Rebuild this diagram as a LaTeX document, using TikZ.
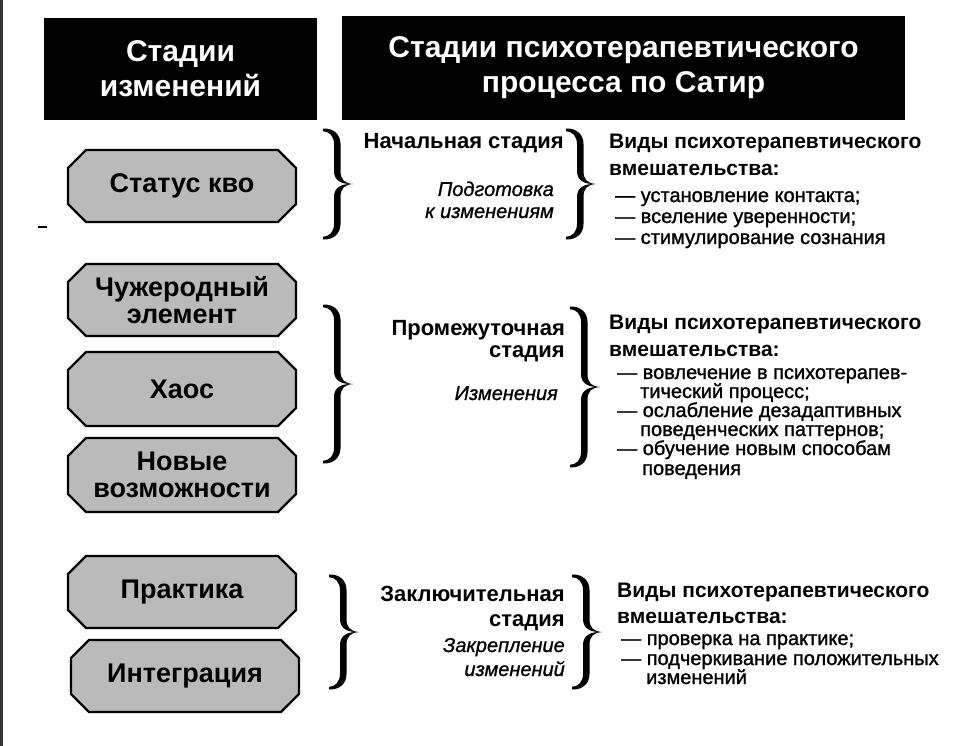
\documentclass[tikz,border=0pt]{standalone}
\usepackage{fontspec}
\setmainfont{Liberation Sans}
\newfontfamily\heavyitem{Liberation Sans}[FakeBold=1.2]
\newfontfamily\heavyital{Liberation Sans Italic}[FakeBold=1.0]
\usetikzlibrary{shapes.misc}

\tikzset{
  headbox/.style={fill=black, text=white, font=\bfseries\fontsize{30}{35}\selectfont, align=center, inner sep=0pt},
  stagebox/.style={chamfered rectangle, chamfered rectangle xsep=9pt, chamfered rectangle ysep=9pt,
    draw=black, line width=2.4pt, fill=black!27, font=\bfseries\fontsize{27}{27}\selectfont,
    align=center, inner sep=0pt, minimum width=228pt},
  stagename/.style={anchor=base east, font=\bfseries\fontsize{22}{22}\selectfont, inner sep=0pt},
  stagegoal/.style={anchor=base east, font=\heavyital\fontsize{20}{21}\selectfont, inner sep=0pt},
  kindhead/.style={anchor=base west, font=\bfseries\fontsize{21}{22}\selectfont, inner sep=0pt},
  kinditem/.style={anchor=base west, font=\heavyitem\fontsize{20}{21}\selectfont, inner sep=0pt},
  % right-pointing curly brace, #1 = half height
  pics/curly/.style={code={
    \foreach \s in {1,-1}{
      \fill[yscale=\s] (0,-#1-1.5) .. controls (10,-#1-2) and (17.5,-#1+4) .. (17.5,-#1+14)
        -- (17.5,-13) .. controls (17.5,-4) and (22,-0.5) .. (30,0)
        .. controls (19,0.5) and (11,-3) .. (11,-13)
        -- (11,-#1+14) .. controls (11,-#1+6) and (6,-#1+1.2) .. (0,-#1+1.2) -- cycle;
    }
  }},
}

\begin{document}
\begin{tikzpicture}[x=1pt, y=-1pt]
\useasboundingbox (0,0) rectangle (969,746);
\fill[black!80] (0,0) rectangle (3,746);
\draw[line width=1.5pt] (38,227) -- (47,227);

% headers
\node[headbox, minimum width=273pt, minimum height=102pt] (hstage) at (180.5,69) {Стадии\\изменений};
\node[headbox, minimum width=563pt, minimum height=104pt] (hproc) at (623.5,68) {Стадии психотерапевтического\\процесса по Сатир};

% stages of change
\node[stagebox, minimum height=72pt] (kvo) at (182,186) {Статус кво};
\node[stagebox, minimum height=72pt] (alien) at (182,300) {Чужеродный\\элемент};
\node[stagebox, minimum height=74pt] (chaos) at (182,389) {Хаос};
\node[stagebox, minimum height=74pt] (newpos) at (182,475) {Новые\\возможности};
\node[stagebox, minimum height=72pt] (practice) at (182,592) {Практика};
\node[stagebox, minimum height=72pt] (integr) at (185,676) {Интеграция};

% braces
\pic (bA) at (323,184) {curly=54};
\pic (bB) at (566,184) {curly=54};
\pic (bC) at (323,384) {curly=78};
\pic (bD) at (570,387) {curly=79};
\pic (bE) at (329,632) {curly=56};
\pic (bF) at (572,632) {curly=56};

% initial stage
\node[stagename] (n1) at (564,149) {Начальная стадия};
\node[stagegoal] (g1a) at (554,196) {Подготовка};
\node[stagegoal] (g1b) at (554,218) {к изменениям};
\node[kindhead] (k1a) at (609,149) {Виды психотерапевтического};
\node[kindhead] (k1b) at (609,176) {вмешательства:};
\node[kinditem] (k1c) at (615,202) {— установление контакта;};
\node[kinditem] (k1d) at (615,223) {— вселение уверенности;};
\node[kinditem] (k1e) at (615,244) {— стимулирование сознания};

% intermediate stage
\node[stagename] (n2a) at (565,335) {Промежуточная};
\node[stagename] (n2b) at (565,357) {стадия};
\node[stagegoal] (g2) at (558,400) {Изменения};
\node[kindhead] (k2a) at (609,329) {Виды психотерапевтического};
\node[kindhead] (k2b) at (609,356) {вмешательства:};
\node[kinditem] (k2c) at (617,379) {— вовлечение в психотерапев-};
\node[kinditem] (k2d) at (640,398) {тический процесс;};
\node[kinditem] (k2e) at (617,417) {— ослабление дезадаптивных};
\node[kinditem] (k2f) at (640,436) {поведенческих паттернов;};
\node[kinditem] (k2g) at (617,455) {— обучение новым способам};
\node[kinditem] (k2h) at (642,475) {поведения};

% final stage
\node[stagename] (n3a) at (565,601) {Заключительная};
\node[stagename] (n3b) at (565,626) {стадия};
\node[stagegoal] (g3a) at (565,652) {Закрепление};
\node[stagegoal] (g3b) at (565,676) {изменений};
\node[kindhead] (k3a) at (617,597) {Виды психотерапевтического};
\node[kindhead] (k3b) at (617,623) {вмешательства:};
\node[kinditem] (k3c) at (621,645) {— проверка на практике;};
\node[kinditem] (k3d) at (621,665) {— подчеркивание положительных};
\node[kinditem] (k3e) at (646,684) {изменений};
\end{tikzpicture}
\end{document}
